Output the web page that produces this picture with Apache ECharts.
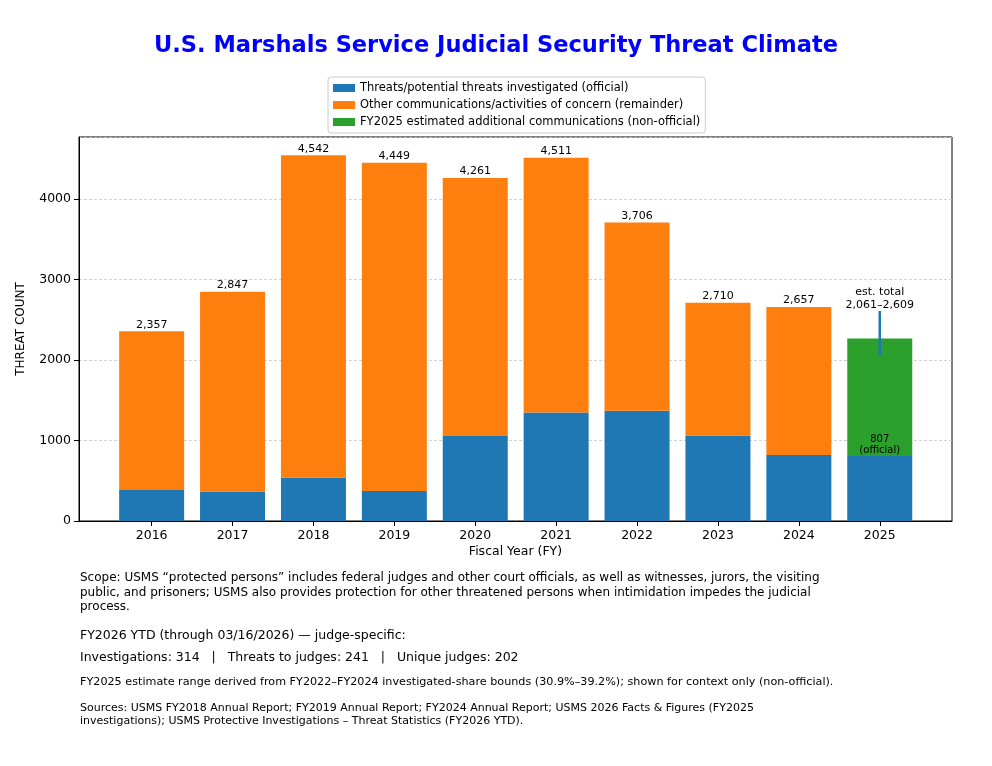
<!DOCTYPE html>
<html><head><meta charset="utf-8">
<script src="https://cdn.jsdelivr.net/npm/echarts@6/dist/echarts.min.js"></script>
<style>html,body{margin:0;padding:0;background:#fff}#c{width:992px;height:766px}</style>
</head><body><div id="c"></div>
<script>
const years = ['2016','2017','2018','2019','2020','2021','2022','2023','2024','2025'];
const investigated = [386, 365, 539, 373, 1057, 1347, 1368, 1061, 821, 807];
const totals = [2357, 2847, 4542, 4449, 4261, 4511, 3706, 2710, 2657, null];
const estAdditional = [null, null, null, null, null, null, null, null, null, 1460];
const estLow = 2061, estHigh = 2609;
const yTicks = [0, 1000, 2000, 3000, 4000];
const yMax = 4769;

const remainder = totals.map((t, i) => t == null ? null : t - investigated[i]);
const fmt = n => n.toLocaleString('en-US');
const F = 'DejaVu Sans';

const chart = echarts.init(document.getElementById('c'), null, {renderer: 'canvas'});
const noteLines = [
  {t: 'Scope: USMS \u201cprotected persons\u201d includes federal judges and other court officials, as well as witnesses, jurors, the visiting', y: 579, s: 12},
  {t: 'public, and prisoners; USMS also provides protection for other threatened persons when intimidation impedes the judicial', y: 594, s: 12},
  {t: 'process.', y: 608, s: 12},
  {t: 'FY2026 YTD (through 03/16/2026) \u2014 judge-specific:', y: 637, s: 12.5},
  {t: 'Investigations: 314   |   Threats to judges: 241   |   Unique judges: 202', y: 659, s: 12.5},
  {t: 'FY2025 estimate range derived from FY2022\u2013FY2024 investigated-share bounds (30.9%\u201339.2%); shown for context only (non-official).', y: 683, s: 11.2},
  {t: 'Sources: USMS FY2018 Annual Report; FY2019 Annual Report; FY2024 Annual Report; USMS 2026 Facts & Figures (FY2025', y: 709, s: 11},
  {t: 'investigations); USMS Protective Investigations \u2013 Threat Statistics (FY2026 YTD).', y: 722, s: 11}
];

const option = {
  animation: false,
  textStyle: {fontFamily: F},
  title: {
    text: 'U.S. Marshals Service Judicial Security Threat Climate',
    left: 'center', top: 30,
    textStyle: {color: '#0000ff', fontSize: 22.5, fontWeight: 'bold', fontFamily: F}
  },
  legend: {
    orient: 'vertical', left: 328, top: 77,
    data: ['Threats/potential threats investigated (official)', 'Other communications/activities of concern (remainder)', 'FY2025 estimated additional communications (non-official)'],
    icon: 'rect', itemWidth: 22, itemHeight: 8, itemGap: 5,
    borderColor: '#cccccc', borderWidth: 1, borderRadius: 3, padding: [5, 5, 5, 5],
    textStyle: {fontSize: 11.5, color: '#000', fontFamily: F}
  },
  grid: [
    {left: 79, right: 40, top: 137, bottom: 245, show: true, borderColor: '#000', borderWidth: 1, backgroundColor: 'transparent'},
    {left: 111.2, width: 809, top: 137, bottom: 245}
  ],
  xAxis: [
    {gridIndex: 0, type: 'value', min: 0, max: 1, axisLine: {show: true, lineStyle: {color: '#000'}}, axisTick: {show: false}, axisLabel: {show: false}, splitLine: {show: false},
     name: 'Fiscal Year (FY)', nameLocation: 'middle', nameGap: 24, nameTextStyle: {fontSize: 12.5, color: '#000'}},
    {gridIndex: 1, type: 'category', data: years, axisLine: {show: false}, axisTick: {show: true, alignWithLabel: true, length: 5, lineStyle: {color: '#000'}},
     axisLabel: {fontSize: 12.5, color: '#000', margin: 8}}
  ],
  yAxis: [
    {gridIndex: 0, type: 'value', min: 0, max: yMax, interval: 1000,
     axisLine: {show: true, lineStyle: {color: '#000'}}, axisTick: {show: true, length: 5, lineStyle: {color: '#000'}},
     axisLabel: {fontSize: 12.5, color: '#000', showMaxLabel: false, formatter: v => yTicks.includes(v) ? String(v) : ''},
     splitLine: {show: true, lineStyle: {color: '#c8c8c8', type: [3, 2], width: 0.8}},
     name: 'THREAT COUNT', nameLocation: 'middle', nameGap: 52, nameRotate: 90, nameTextStyle: {fontSize: 12, color: '#000'}},
    {gridIndex: 1, type: 'value', min: 0, max: yMax, show: false, splitLine: {show: false}}
  ],
  series: [
    {name: 'Threats/potential threats investigated (official)', type: 'bar', stack: 's', xAxisIndex: 1, yAxisIndex: 1,
     data: investigated, barWidth: 65, itemStyle: {color: '#1f77b4'},
     label: {show: true, position: 'top', distance: 0, fontSize: 10, color: '#000', lineHeight: 11,
       formatter: p => p.dataIndex === 9 ? p.value + '\n(official)' : ''}},
    {name: 'Other communications/activities of concern (remainder)', type: 'bar', stack: 's', xAxisIndex: 1, yAxisIndex: 1,
     data: remainder, barWidth: 65, itemStyle: {color: '#ff7f0e'},
     label: {show: true, position: 'top', distance: 1, fontSize: 11, color: '#000', formatter: p => fmt(totals[p.dataIndex])}},
    {name: 'FY2025 estimated additional communications (non-official)', type: 'bar', stack: 's', xAxisIndex: 1, yAxisIndex: 1,
     data: estAdditional, barWidth: 65, itemStyle: {color: '#2ca02c'}, z: 1},
    {name: 'range', type: 'custom', xAxisIndex: 1, yAxisIndex: 1, z: 5,
     data: [[9, estLow, estHigh]],
     renderItem: (params, api) => {
       const lo = api.coord([api.value(0), api.value(1)]);
       const hi = api.coord([api.value(0), api.value(2)]);
       return {type: 'group', children: [
         {type: 'line', shape: {x1: lo[0], y1: lo[1], x2: hi[0], y2: hi[1]}, style: {stroke: '#1f77b4', lineWidth: 2.5}},
         {type: 'text', x: hi[0], y: hi[1] + 1, style: {text: 'est. total\n' + fmt(api.value(1)) + '\u2013' + fmt(api.value(2)), align: 'center', verticalAlign: 'bottom', fontSize: 11, lineHeight: 13, fill: '#000', fontFamily: F}}
       ]};
     }}
  ],
  graphic: noteLines.map(l => ({type: 'text', left: 80, top: l.y - l.s * 0.6, style: {text: l.t, fontSize: l.s, fontFamily: F, fill: '#000'}}))
};
chart.setOption(option);
</script></body></html>
